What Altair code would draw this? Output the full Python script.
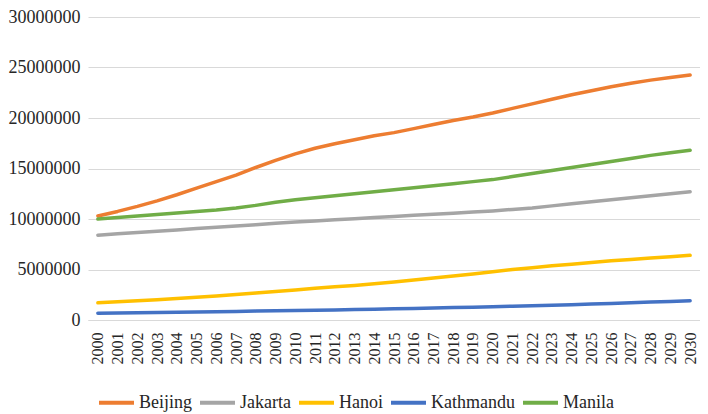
import altair as alt
import pandas as pd

years = [str(y) for y in range(2000, 2031)]
cities = ["Beijing", "Jakarta", "Hanoi", "Kathmandu", "Manila"]
colors = ["#ED7D31", "#A5A5A5", "#FFC000", "#4472C4", "#70AD47"]

beijing = [10300000, 10750000, 11250000, 11800000, 12400000, 13050000, 13700000, 14350000,
           15100000, 15800000, 16450000, 17000000, 17450000, 17850000, 18250000, 18550000,
           18950000, 19350000, 19750000, 20100000, 20500000, 20950000, 21400000, 21850000,
           22300000, 22700000, 23100000, 23450000, 23750000, 24000000, 24250000]
jakarta = [8400000, 8530000, 8660000, 8790000, 8920000, 9050000, 9180000, 9310000,
           9440000, 9570000, 9700000, 9810000, 9920000, 10030000, 10140000, 10250000,
           10360000, 10470000, 10580000, 10690000, 10800000, 10950000, 11100000, 11300000,
           11500000, 11700000, 11900000, 12100000, 12300000, 12500000, 12700000]
hanoi = [1700000, 1800000, 1900000, 2000000, 2120000, 2250000, 2380000, 2520000,
         2670000, 2820000, 2980000, 3140000, 3290000, 3420000, 3580000, 3760000,
         3950000, 4150000, 4350000, 4560000, 4780000, 5000000, 5180000, 5360000,
         5530000, 5700000, 5860000, 6000000, 6140000, 6270000, 6400000]
kathmandu = [680000, 700000, 720000, 740000, 770000, 800000, 820000, 850000,
             880000, 910000, 940000, 970000, 1000000, 1030000, 1070000, 1110000,
             1150000, 1190000, 1230000, 1270000, 1320000, 1370000, 1420000, 1470000,
             1520000, 1580000, 1640000, 1700000, 1770000, 1840000, 1910000]
manila = [10000000, 10150000, 10300000, 10450000, 10600000, 10750000, 10900000, 11100000,
          11350000, 11650000, 11900000, 12100000, 12300000, 12500000, 12700000, 12900000,
          13100000, 13300000, 13500000, 13700000, 13900000, 14200000, 14500000, 14800000,
          15100000, 15400000, 15700000, 16000000, 16300000, 16550000, 16800000]

y_ticks = [0, 5000000, 10000000, 15000000, 20000000, 25000000, 30000000]

series = [beijing, jakarta, hanoi, kathmandu, manila]
rows = []
for city, vals in zip(cities, series):
    for yr, v in zip(years, vals):
        rows.append({"Year": yr, "City": city, "Population": v})
df = pd.DataFrame(rows)

FONT = "Liberation Serif, Tinos, Times New Roman, Times, DejaVu Serif, serif"
TXT = "#262626"
GRID = "#D9D9D9"

chart = alt.Chart(df).mark_line(strokeWidth=3.5, strokeCap="round", strokeJoin="round").encode(
    x=alt.X("Year:N", sort=years,
            scale=alt.Scale(type="point", padding=0.5),
            axis=alt.Axis(title=None, labelAngle=270, labelFont=FONT, labelFontSize=16,
                          labelColor=TXT, ticks=False, labelPadding=12, domainColor=GRID,
                          domainWidth=1, grid=False, labelOverlap=False)),
    y=alt.Y("Population:Q", scale=alt.Scale(domain=[0, 30000000]),
            axis=alt.Axis(title=None, values=y_ticks, format="d", labelFont=FONT,
                          labelFontSize=18, labelColor=TXT, domain=False, ticks=False,
                          labelPadding=8, grid=True, gridColor=GRID, gridWidth=1.2)),
    color=alt.Color("City:N", sort=cities,
                    scale=alt.Scale(domain=cities, range=colors),
                    legend=alt.Legend(orient="none", legendX=9, legendY=366,
                                      direction="horizontal", title=None,
                                      symbolType="stroke", symbolSize=1225,
                                      symbolStrokeWidth=4, labelFont=FONT,
                                      labelFontSize=18, labelColor=TXT,
                                      labelOffset=3, columnPadding=0)),
).properties(width=612, height=303, padding=0).configure(font=FONT).configure_view(stroke=None)

chart.save("out.html", embed_options={"renderer": "svg", "actions": False})
